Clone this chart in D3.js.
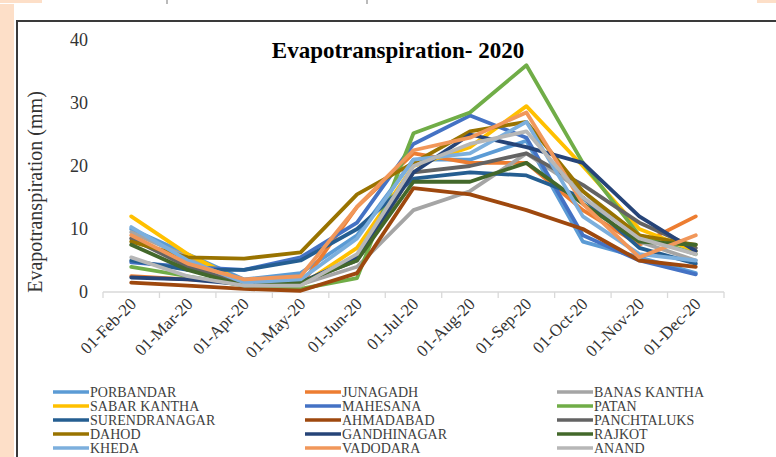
<!DOCTYPE html>
<html>
<head>
<meta charset="utf-8">
<script src="https://cdn.jsdelivr.net/npm/d3@7"></script>
<style>
  html, body { margin: 0; padding: 0; background: #fff; }
  svg { display: block; }
  svg text { font-family: "Liberation Serif", "Times New Roman", "DejaVu Serif", serif; }
</style>
</head>
<body>
<svg id="chart" width="776" height="457"></svg>
<script>
// Monthly evapotranspiration (mm), 2020, by district
const months = ["01-Feb-20","01-Mar-20","01-Apr-20","01-May-20","01-Jun-20","01-Jul-20","01-Aug-20","01-Sep-20","01-Oct-20","01-Nov-20","01-Dec-20"];
const districts = ["PORBANDAR","JUNAGADH","BANAS KANTHA","SABAR KANTHA","MAHESANA","PATAN","SURENDRANAGAR","AHMADABAD","PANCHTALUKS","DAHOD","GANDHINAGAR","RAJKOT","KHEDA","VADODARA","ANAND"];
const colors = ["#5B9BD5","#ED7D31","#A5A5A5","#FFC000","#4472C4","#70AD47","#255E91","#9E480E","#636363","#997300","#264478","#43682B","#7CAFDD","#F1975A","#B7B7B7"];

const porbandar    = [10, 6, 2, 3, 9, 21, 21, 24, 8, 5.5, 3];
const junagadh     = [2.5, 2, 1.5, 1, 13.5, 22, 20.5, 20.5, 13, 7.5, 12];
const banasKantha  = [9.5, 5.5, 1.5, 1.2, 4, 13, 16, 22, 16, 8, 5];
const sabarKantha  = [12, 6, 1.5, 1, 7, 20, 23, 29.5, 20, 10, 6.5];
const mahesana     = [4.7, 4, 3.5, 5.5, 11, 23.5, 28, 24.5, 9, 5, 2.8];
const patan        = [4, 2.5, 1, 0.5, 2.2, 25.2, 28.5, 36, 20.5, 9, 6];
const surendranagar= [5, 3.5, 3.5, 5, 10, 18, 19, 18.5, 15, 7, 4.5];
const ahmadabad    = [1.5, 1, 0.5, 0.2, 3, 16.5, 15.5, 13, 10, 5, 4];
const panchtaluks  = [8.5, 4, 1.5, 1.5, 5, 19, 20, 22, 17, 11, 7];
const dahod        = [8, 5.5, 5.3, 6.3, 15.5, 20.5, 25.5, 27, 16, 9, 7.5];
const gandhinagar  = [2.3, 2, 1.2, 1.5, 5.5, 19, 25, 23, 20.5, 12, 6.5];
const rajkot       = [7.5, 3.5, 1, 1.5, 5, 17.5, 17.5, 20.5, 14, 8, 7.5];
const kheda        = [10.3, 5, 1.5, 2, 8.5, 21, 22, 27, 12, 6, 5];
const vadodara     = [9, 4.5, 2, 2.5, 13.5, 22.5, 24.5, 28.5, 14, 5.5, 9];
const anand        = [5.5, 2.5, 1, 1, 6, 20, 23.5, 25.5, 15, 8.5, 6];

const seriesValues = [porbandar, junagadh, banasKantha, sabarKantha, mahesana, patan, surendranagar, ahmadabad, panchtaluks, dahod, gandhinagar, rajkot, kheda, vadodara, anand];
const yTicks = [0, 10, 20, 30, 40];

const svg = d3.select("#chart");

// page background pieces around the framed figure
svg.append("rect").attr("x", 0).attr("y", 0).attr("width", 776).attr("height", 457).attr("fill", "#fff");
svg.append("rect").attr("x", 0).attr("y", 4).attr("width", 14).attr("height", 453).attr("fill", "#FDDFC8");
svg.append("rect").attr("x", 0).attr("y", 0).attr("width", 42).attr("height", 3).attr("fill", "#FDDFC8");
svg.append("rect").attr("x", 757).attr("y", 0).attr("width", 19).attr("height", 3).attr("fill", "#FDDFC8");
[167, 367].forEach(x => svg.append("line").attr("x1", x).attr("x2", x).attr("y1", 0).attr("y2", 4)
  .attr("stroke", "#777").attr("stroke-width", 1));

// figure frame
svg.append("path").attr("d", "M17,460 V21 H780").attr("fill", "none")
  .attr("stroke", "#3a3a3a").attr("stroke-width", 2);

const x = d3.scaleBand().domain(months).range([103, 724]);
const y = d3.scaleLinear().domain([0, 40]).range([292, 40]);

// title
svg.append("text").attr("x", 398).attr("y", 58).attr("text-anchor", "middle")
  .attr("font-weight", "bold").attr("font-size", 23)
  .attr("fill", "#000").text("Evapotranspiration- 2020");

// y axis labels (no axis line)
const yAxis = svg.append("g").attr("transform", "translate(88,0)")
  .call(d3.axisLeft(y).tickValues(yTicks).tickSize(0).tickPadding(0));
yAxis.select(".domain").remove();
yAxis.attr("font-family", null);
yAxis.selectAll("text").attr("font-size", 18).attr("fill", "#333");

svg.append("text").attr("transform", "translate(42,192) rotate(-90)").attr("text-anchor", "middle")
  .attr("font-size", 20).attr("fill", "#333")
  .text("Evapotranspiration (mm)");

// x axis with category boundary ticks
const xg = svg.append("g").attr("transform", "translate(0,292)");
xg.append("line").attr("x1", 103).attr("x2", 724).attr("stroke", "#d9d9d9").attr("stroke-width", 1.3);
const bounds = months.map(m => x(m)).concat([x.range()[1]]);
xg.selectAll("line.tk").data(bounds).join("line").attr("class", "tk")
  .attr("x1", d => d).attr("x2", d => d).attr("y1", 0).attr("y2", 6)
  .attr("stroke", "#d9d9d9").attr("stroke-width", 1.3);
xg.selectAll("text").data(months).join("text")
  .attr("transform", d => `translate(${x(d) + x.bandwidth() / 2 + 6},${13}) rotate(-45)`)
  .attr("text-anchor", "end").attr("font-size", 17).attr("fill", "#333")
  .text(d => d);

// series lines
const line = d3.line().x((d, i) => x(months[i]) + x.bandwidth() / 2).y(d => y(d));
svg.append("g").selectAll("path").data(seriesValues).join("path")
  .attr("d", d => line(d)).attr("fill", "none")
  .attr("stroke", (d, i) => colors[i]).attr("stroke-width", 3.8)
  .attr("stroke-linejoin", "round").attr("stroke-linecap", "round");

// legend: 3 columns x 5 rows
const colX = [53, 305, 557];
const rowY = [392, 406, 420, 434, 448];
const lg = svg.append("g").selectAll("g").data(districts).join("g")
  .attr("transform", (d, i) => `translate(${colX[i % 3]},${rowY[Math.floor(i / 3)]})`);
lg.append("line").attr("x1", 0).attr("x2", 36).attr("stroke", (d, i) => colors[i]).attr("stroke-width", 3.5);
lg.append("text").attr("x", 37).attr("y", 4.5).attr("font-size", 14)
  .attr("fill", "#404040").text(d => d);
</script>
</body>
</html>
